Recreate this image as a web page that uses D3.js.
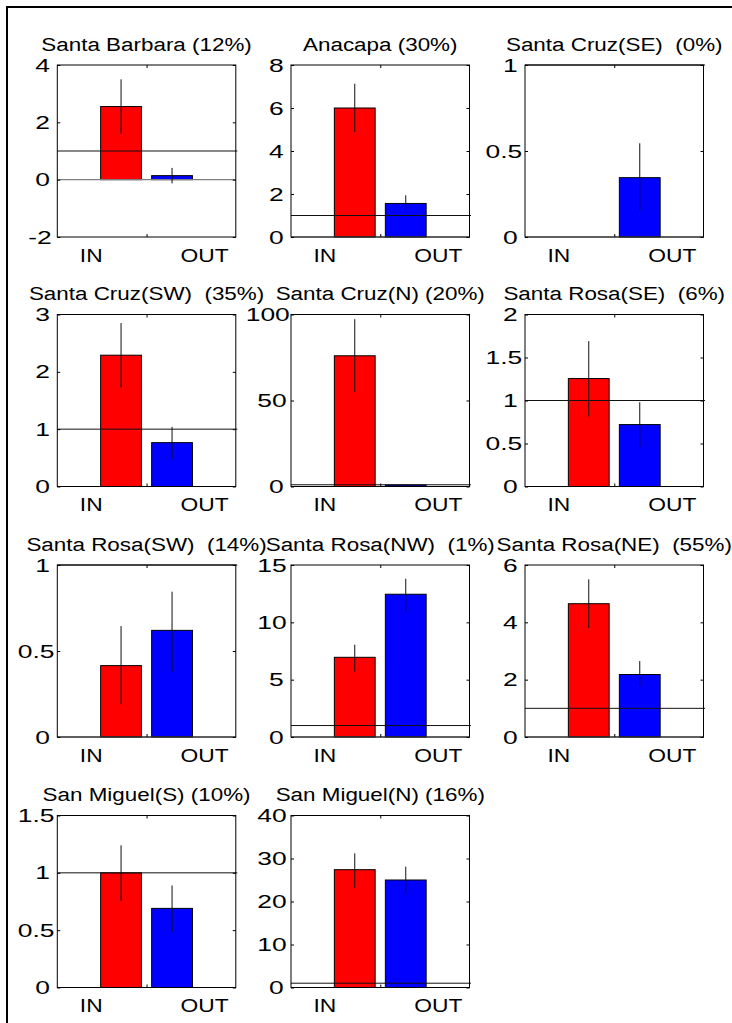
<!DOCTYPE html>
<html>
<head>
<meta charset="utf-8">
<script src="https://cdn.jsdelivr.net/npm/d3@7/dist/d3.min.js"></script>
<style>
  html, body { margin: 0; padding: 0; background: #fff; }
  svg { display: block; }
  text { font-family: "Liberation Sans", Arial, sans-serif; white-space: pre; fill: #000; }
</style>
</head>
<body>
<svg id="chart" width="732" height="1023"></svg>
<script>
// ---- data ----
const titles = [
  "Santa Barbara (12%)", "Anacapa (30%)", "Santa Cruz(SE)  (0%)",
  "Santa Cruz(SW)  (35%)", "Santa Cruz(N) (20%)", "Santa Rosa(SE)  (6%)",
  "Santa Rosa(SW)  (14%)", "Santa Rosa(NW)  (1%)", "Santa Rosa(NE)  (55%)",
  "San Miguel(S) (10%)", "San Miguel(N) (16%)"
];
const categories = ["IN", "OUT"];
const inValues  = [2.55, 6.0, 0, 2.29, 76.0, 1.255, 0.415, 6.95, 4.65, 1.0, 27.4];
const inLow     = [1.6, 4.88, 0, 1.73, 55.0, 0.815, 0.19, 5.7, 3.8, 0.755, 23.2];
const inHigh    = [3.5, 7.13, 0, 2.85, 97.3, 1.69, 0.645, 8.05, 5.5, 1.24, 31.2];
const outValues = [0.14, 1.56, 0.345, 0.765, 0.9, 0.72, 0.62, 12.45, 2.18, 0.69, 25.0];
const outLow    = [-0.13, 1.24, 0.15, 0.49, 0.6, 0.46, 0.38, 10.9, 1.77, 0.485, 22.0];
const outHigh   = [0.41, 1.94, 0.545, 1.04, 1.2, 0.98, 0.845, 13.8, 2.65, 0.89, 28.1];
const yDomains = [[-2,4],[0,8],[0,1],[0,3],[0,100],[0,2],[0,1],[0,15],[0,6],[0,1.5],[0,40]];
const yTicks = [
  [-2,0,2,4],[0,2,4,6,8],[0,0.5,1],
  [0,1,2,3],[0,50,100],[0,0.5,1,1.5,2],
  [0,0.5,1],[0,5,10,15],[0,2,4,6],
  [0,0.5,1,1.5],[0,10,20,30,40]
];
const refValue = 1;

// ---- layout ----
const colLeft = [57.3, 291, 525];
const rowTop = [65, 314.5, 565, 815.5];
const axW = 178.5, axH = 172;
const fontSize = 19;
const titleSx = 1.18, labelSx = 1.2, tickSx = 1.39;
const barColors = ["#ff0000", "#0000ff"];
const groupOffsets = [-1/7, 1/7];
const barW = 0.8 * 2 / 7;
const labelPos = [0.69, 1.325];

const svg = d3.select("#chart");
svg.append("rect").attr("width", 732).attr("height", 1023).attr("fill", "#fff");

// outer frame (left + top)
svg.append("line").attr("x1", 7).attr("y1", 7).attr("x2", 7).attr("y2", 1023)
  .attr("stroke", "#000").attr("stroke-width", 2);
svg.append("line").attr("x1", 6).attr("y1", 7).attr("x2", 732).attr("y2", 7)
  .attr("stroke", "#000").attr("stroke-width", 2);

function scaledText(g, x, y, str, anchor, k) {
  return g.append("text")
    .attr("transform", `translate(${x},${y}) scale(${k},1)`)
    .attr("text-anchor", anchor)
    .attr("font-size", fontSize)
    .text(str);
}

titles.forEach((t, i) => {
  const r = Math.floor(i / 3), c = i % 3;
  const left = colLeft[c], top = rowTop[r];
  const x = d3.scaleLinear().domain([0.5, 1.5]).range([left, left + axW]);
  const y = d3.scaleLinear().domain(yDomains[i]).range([top + axH, top]);
  const g = svg.append("g");

  const vals = [inValues[i], outValues[i]];
  const lows = [inLow[i], outLow[i]];
  const highs = [inHigh[i], outHigh[i]];

  // bars
  vals.forEach((v, k) => {
    const cx = 1 + groupOffsets[k];
    g.append("rect")
      .attr("x", x(cx - barW / 2))
      .attr("width", x(cx + barW / 2) - x(cx - barW / 2))
      .attr("y", Math.min(y(v), y(0)))
      .attr("height", Math.abs(y(0) - y(v)))
      .attr("fill", barColors[k])
      .attr("stroke", "#000").attr("stroke-width", 1);
  });
  // baseline
  g.append("line")
    .attr("x1", x(0.5)).attr("x2", x(1.5))
    .attr("y1", y(0)).attr("y2", y(0))
    .attr("stroke", "#808080").attr("stroke-width", 1.2);
  // error bars
  vals.forEach((v, k) => {
    const cx = 1 + groupOffsets[k];
    g.append("line")
      .attr("x1", x(cx)).attr("x2", x(cx))
      .attr("y1", y(lows[k])).attr("y2", y(highs[k]))
      .attr("stroke", "#111").attr("stroke-width", 1);
  });
  // reference line
  g.append("line")
    .attr("x1", x(0.5)).attr("x2", x(1.5) + 1.5)
    .attr("y1", y(refValue)).attr("y2", y(refValue))
    .attr("stroke", "#111").attr("stroke-width", 1);

  // ticks (inward) on all four sides
  g.append("g").attr("transform", `translate(${left},0)`)
    .call(d3.axisLeft(y).tickValues(yTicks[i]).tickSize(-3).tickFormat(""))
    .call(s => s.select(".domain").remove());
  g.append("g").attr("transform", `translate(${left + axW},0)`)
    .call(d3.axisRight(y).tickValues(yTicks[i]).tickSize(-3).tickFormat(""))
    .call(s => s.select(".domain").remove());
  g.append("g").attr("transform", `translate(0,${top + axH})`)
    .call(d3.axisBottom(x).tickValues([1]).tickSize(-3).tickFormat(""))
    .call(s => s.select(".domain").remove());
  g.append("g").attr("transform", `translate(0,${top})`)
    .call(d3.axisTop(x).tickValues([1]).tickSize(-3).tickFormat(""))
    .call(s => s.select(".domain").remove());

  // box
  g.append("rect")
    .attr("x", left).attr("y", top).attr("width", axW).attr("height", axH)
    .attr("fill", "none").attr("stroke", "#000").attr("stroke-width", 1);

  // y tick labels: left-anchored, placed from the natural width, then stretched
  yTicks[i].forEach(v => {
    const txt = g.append("text")
      .attr("font-size", fontSize)
      .attr("text-anchor", "start")
      .text(String(v));
    const w = txt.node().getComputedTextLength();
    const lx = left - 10.4 - 1.1 * w;
    txt.attr("transform", `translate(${lx},${y(v) + fontSize * 0.35}) scale(${tickSx},1)`);
  });
  // category labels
  categories.forEach((cat, k) => {
    scaledText(g, x(labelPos[k]), top + axH + 24.5, cat, "middle", labelSx);
  });
  // title
  scaledText(g, left + axW / 2, top - 14.5, t, "middle", titleSx);
});
</script>
</body>
</html>
